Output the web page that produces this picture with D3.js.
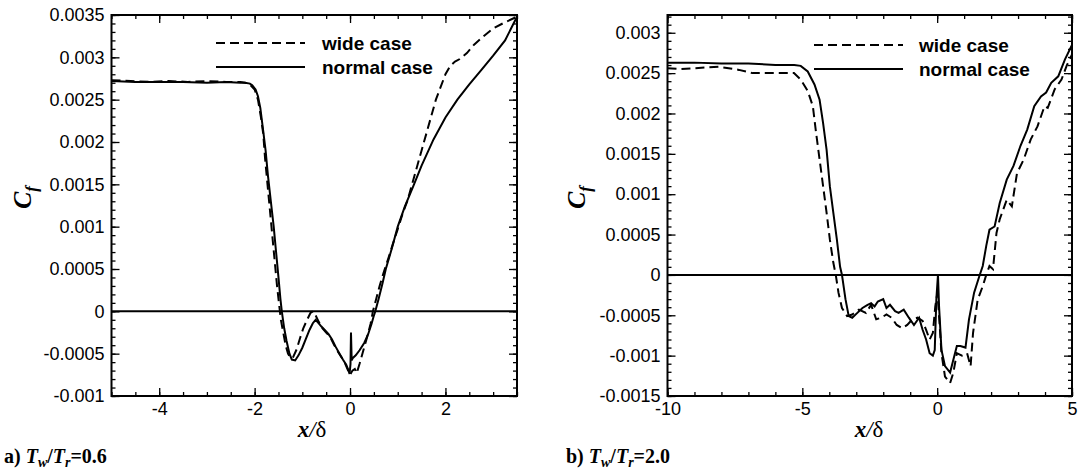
<!DOCTYPE html>
<html>
<head>
<meta charset="utf-8">
<script src="https://cdn.jsdelivr.net/npm/d3@7"></script>
<style>
  body { margin: 0; background: #fff; }
  svg { display: block; }
</style>
</head>
<body>
<svg id="fig" width="1078" height="472"></svg>
<script>
// ---- Panel a) Tw/Tr = 0.6 : skin friction along the wall ----
const aXTicks = [-4, -2, 0, 2];
const aYTicks = [-0.001, -0.0005, 0, 0.0005, 0.001, 0.0015, 0.002, 0.0025, 0.003, 0.0035];

const aNormal = [
  [-5, 0.00272], [-4.5, 0.00271], [-4, 0.00271], [-3.5, 0.00271], [-3, 0.0027], [-2.6, 0.00271],
  [-2.3, 0.0027], [-2.2, 0.0027], [-2.1, 0.00269], [-2.05, 0.00267], [-1.98, 0.00262], [-1.93, 0.00254],
  [-1.88, 0.0024], [-1.82, 0.00213], [-1.77, 0.0019], [-1.72, 0.0016], [-1.66, 0.0013], [-1.6, 0.001],
  [-1.55, 0.0007], [-1.5, 0.0004], [-1.46, 0.00015], [-1.43, 0], [-1.38, -0.0002], [-1.33, -0.00035],
  [-1.27, -0.0005], [-1.22, -0.00057], [-1.15, -0.00058], [-1.08, -0.00052], [-1.0, -0.00043],
  [-0.93, -0.00033], [-0.85, -0.00022], [-0.78, -0.00014], [-0.72, -0.0001], [-0.66, -0.00014],
  [-0.6, -0.00018], [-0.53, -0.00022], [-0.45, -0.00027], [-0.38, -0.00033], [-0.3, -0.00042],
  [-0.22, -0.0005], [-0.15, -0.00057], [-0.08, -0.00063], [-0.03, -0.0007], [-0.01, -0.00074],
  [0.01, -0.00062], [0.02, -0.00025], [0.035, -0.00058], [0.06, -0.00055], [0.12, -0.00052],
  [0.2, -0.00046], [0.3, -0.00037], [0.38, -0.00027], [0.45, -0.00015], [0.5, -0.00005], [0.53, 0],
  [0.6, 0.00015], [0.68, 0.00033], [0.75, 0.0005], [0.88, 0.00075], [1.0, 0.001], [1.15, 0.00124],
  [1.32, 0.00147], [1.5, 0.00172], [1.75, 0.00203], [2.0, 0.00229], [2.25, 0.0025], [2.5, 0.00268],
  [2.75, 0.00285], [3.0, 0.00302], [3.25, 0.0032], [3.5, 0.00348]
];

const aWide = [
  [-5, 0.00273], [-4.6, 0.00272], [-4.2, 0.00271], [-3.8, 0.00272], [-3.4, 0.00271], [-3.0, 0.00272],
  [-2.6, 0.00271], [-2.3, 0.00271], [-2.2, 0.0027], [-2.1, 0.00268], [-2.0, 0.00262], [-1.93, 0.0025],
  [-1.87, 0.0023], [-1.82, 0.0021], [-1.78, 0.0018], [-1.73, 0.0015], [-1.68, 0.0012], [-1.63, 0.0009],
  [-1.58, 0.0006], [-1.53, 0.0003], [-1.48, 0.00005], [-1.45, -0.0001], [-1.4, -0.00025],
  [-1.35, -0.0004], [-1.3, -0.0005], [-1.25, -0.00055], [-1.2, -0.00055], [-1.12, -0.00045],
  [-1.05, -0.00032], [-0.98, -0.0002], [-0.9, -0.0001], [-0.83, -0.00002], [-0.78, 0],
  [-0.72, -0.00005], [-0.65, -0.00013], [-0.58, -0.0002], [-0.5, -0.00025], [-0.42, -0.0003],
  [-0.33, -0.0004], [-0.25, -0.00048], [-0.17, -0.00055], [-0.1, -0.00062], [-0.04, -0.0007],
  [0, -0.00075], [0.05, -0.0007], [0.1, -0.00068], [0.14, -0.00073], [0.2, -0.00062], [0.28, -0.00046],
  [0.36, -0.0003], [0.43, -0.00015], [0.48, 0], [0.55, 0.00015], [0.62, 0.0003], [0.7, 0.00045],
  [0.8, 0.00062], [0.9, 0.0008], [1.0, 0.00097], [1.1, 0.00115], [1.2, 0.0013], [1.3, 0.0015],
  [1.4, 0.0017], [1.5, 0.0019], [1.6, 0.0021], [1.7, 0.0023], [1.8, 0.0025], [1.9, 0.00265],
  [2.0, 0.0028], [2.1, 0.0029], [2.2, 0.00295], [2.3, 0.00298], [2.45, 0.00305], [2.6, 0.00315],
  [2.8, 0.00325], [3.0, 0.00334], [3.2, 0.0034], [3.5, 0.00348]
];

// ---- Panel b) Tw/Tr = 2.0 ----
const bXTicks = [-10, -5, 0, 5];
const bYTicks = [-0.0015, -0.001, -0.0005, 0, 0.0005, 0.001, 0.0015, 0.002, 0.0025, 0.003];

const bNormal = [
  [-10, 0.00263], [-9, 0.00263], [-8, 0.00262], [-7, 0.00262], [-6, 0.0026], [-5.3, 0.0026],
  [-5.06, 0.00259], [-4.8, 0.00252], [-4.55, 0.00236], [-4.36, 0.00217], [-4.23, 0.00188],
  [-4.1, 0.00155], [-3.98, 0.0011], [-3.85, 0.00077], [-3.72, 0.00044], [-3.6, 0.0001], [-3.53, 0],
  [-3.4, -0.0003], [-3.28, -0.00051], [-3.15, -0.00053], [-2.96, -0.00047], [-2.77, -0.00041],
  [-2.58, -0.00037], [-2.45, -0.00035], [-2.32, -0.00039], [-2.2, -0.00033], [-2.0, -0.0003],
  [-1.88, -0.00041], [-1.75, -0.00037], [-1.56, -0.00045], [-1.43, -0.00047], [-1.24, -0.00043],
  [-1.05, -0.00053], [-0.86, -0.00062], [-0.67, -0.00053], [-0.54, -0.00068], [-0.41, -0.0008],
  [-0.28, -0.00097], [-0.16, -0.001], [-0.09, -0.00093], [-0.03, -0.0003], [0.03, 0],
  [0.07, -0.00039], [0.16, -0.00093], [0.29, -0.00113], [0.48, -0.00121], [0.6, -0.00105],
  [0.73, -0.00088], [0.86, -0.00088], [1.05, -0.0009], [1.18, -0.00055], [1.37, -0.00022],
  [1.56, -0.00002], [1.69, 0.00011], [1.82, 0.00036], [1.94, 0.00056], [2.13, 0.0006],
  [2.32, 0.00089], [2.58, 0.00118], [2.83, 0.00135], [3.09, 0.0016], [3.34, 0.0018], [3.6, 0.00209],
  [3.85, 0.00221], [4.04, 0.00226], [4.23, 0.00238], [4.49, 0.00246], [4.74, 0.00267], [5.0, 0.00285]
];

const bWide = [
  [-10, 0.00256], [-9.5, 0.00255], [-9.0, 0.00256], [-8.1, 0.00258], [-7.35, 0.00254],
  [-6.84, 0.0025], [-6.08, 0.0025], [-5.31, 0.0025], [-5.06, 0.00242], [-4.8, 0.00228],
  [-4.61, 0.00209], [-4.49, 0.00176], [-4.36, 0.00143], [-4.23, 0.0011], [-4.1, 0.00077],
  [-3.98, 0.00044], [-3.85, 0.00015], [-3.76, 0], [-3.66, -0.00022], [-3.53, -0.00041],
  [-3.34, -0.00051], [-3.15, -0.00049], [-2.9, -0.00043], [-2.64, -0.00047], [-2.45, -0.00037],
  [-2.26, -0.00055], [-2.07, -0.00053], [-1.88, -0.00049], [-1.69, -0.00053], [-1.5, -0.00062],
  [-1.3, -0.00066], [-1.11, -0.00062], [-0.92, -0.00055], [-0.73, -0.00053], [-0.54, -0.00057],
  [-0.41, -0.00068], [-0.28, -0.0008], [-0.16, -0.00072], [-0.07, -0.00039], [0.01, -0.00022],
  [0.07, -0.00051], [0.16, -0.00097], [0.29, -0.00126], [0.48, -0.00134], [0.6, -0.00121],
  [0.73, -0.00097], [0.92, -0.001], [1.11, -0.00097], [1.24, -0.00113], [1.33, -0.00072],
  [1.5, -0.00031], [1.69, -0.00014], [1.82, 0], [1.94, 0.00011], [2.07, 0.00007], [2.2, 0.00052],
  [2.32, 0.00069], [2.58, 0.00093], [2.77, 0.00085], [2.96, 0.00126], [3.21, 0.00143],
  [3.47, 0.00168], [3.72, 0.00184], [3.98, 0.00209], [4.1, 0.00207], [4.36, 0.0023],
  [4.61, 0.00242], [4.8, 0.00259], [5.0, 0.00273]
];

const seriesNames = ["wide case", "normal case"];

// ---- drawing ----
const svg = d3.select("#fig");
const SANS = "'Liberation Sans', Arial, Helvetica, sans-serif";
const SERIF = "'Liberation Serif', 'Times New Roman', Times, serif";

function fmt(v) {
  if (Math.abs(v) < 1e-12) return "0";
  return String(+v.toFixed(4));
}

function range(a, b, step) {
  const out = [];
  const n = Math.round((b - a) / step);
  for (let i = 0; i <= n; i++) out.push(+(a + i * step).toFixed(6));
  return out;
}

function drawPanel(cfg) {
  const { box, xDomain, yDomain, xTicks, yTicks, xMinor, yMinor, wide, normal, legend, caption, yLabelX, xLabelX } = cfg;
  const x = d3.scaleLinear().domain(xDomain).range([box.left, box.right]);
  const y = d3.scaleLinear().domain(yDomain).range([box.bottom, box.top]);
  const g = svg.append("g");

  const clipId = "clip" + Math.round(box.left);
  svg.append("clipPath").attr("id", clipId).append("rect")
    .attr("x", box.left).attr("y", box.top)
    .attr("width", box.right - box.left).attr("height", box.bottom - box.top);

  const tickStyle = sel => {
    sel.select(".domain").remove();
    sel.selectAll(".tick line").attr("stroke", "#000").attr("stroke-width", 1.3);
    sel.selectAll(".tick text").attr("fill", "#000").style("font-family", SANS).style("font-size", "18px");
  };

  // minor ticks on all four sides
  g.append("g").attr("transform", `translate(0,${box.bottom})`)
    .call(d3.axisBottom(x).tickValues(xMinor).tickSizeInner(-4).tickSizeOuter(0).tickFormat(""))
    .call(tickStyle);
  g.append("g").attr("transform", `translate(0,${box.top})`)
    .call(d3.axisTop(x).tickValues(xMinor).tickSizeInner(-4).tickSizeOuter(0).tickFormat(""))
    .call(tickStyle);
  g.append("g").attr("transform", `translate(${box.left},0)`)
    .call(d3.axisLeft(y).tickValues(yMinor).tickSizeInner(-4).tickSizeOuter(0).tickFormat(""))
    .call(tickStyle);
  g.append("g").attr("transform", `translate(${box.right},0)`)
    .call(d3.axisRight(y).tickValues(yMinor).tickSizeInner(-4).tickSizeOuter(0).tickFormat(""))
    .call(tickStyle);

  // major ticks
  g.append("g").attr("transform", `translate(0,${box.bottom})`)
    .call(d3.axisBottom(x).tickValues(xTicks).tickSizeInner(-8).tickSizeOuter(0).tickPadding(6).tickFormat(fmt))
    .call(tickStyle);
  g.append("g").attr("transform", `translate(0,${box.top})`)
    .call(d3.axisTop(x).tickValues(xTicks).tickSizeInner(-8).tickSizeOuter(0).tickFormat(""))
    .call(tickStyle);
  g.append("g").attr("transform", `translate(${box.left},0)`)
    .call(d3.axisLeft(y).tickValues(yTicks).tickSizeInner(-8).tickSizeOuter(0).tickPadding(7).tickFormat(fmt))
    .call(tickStyle);
  g.append("g").attr("transform", `translate(${box.right},0)`)
    .call(d3.axisRight(y).tickValues(yTicks).tickSizeInner(-8).tickSizeOuter(0).tickFormat(""))
    .call(tickStyle);

  // zero line
  g.append("line")
    .attr("x1", box.left).attr("x2", box.right)
    .attr("y1", y(0)).attr("y2", y(0))
    .attr("stroke", "#000").attr("stroke-width", 2);

  const line = d3.line().x(d => x(d[0])).y(d => y(d[1]));
  const curves = g.append("g").attr("clip-path", `url(#${clipId})`);
  curves.append("path").datum(wide)
    .attr("d", line).attr("fill", "none").attr("stroke", "#000")
    .attr("stroke-width", 2).attr("stroke-dasharray", "9,5");
  curves.append("path").datum(normal)
    .attr("d", line).attr("fill", "none").attr("stroke", "#000")
    .attr("stroke-width", 2);

  // frame
  g.append("rect")
    .attr("x", box.left).attr("y", box.top)
    .attr("width", box.right - box.left).attr("height", box.bottom - box.top)
    .attr("fill", "none").attr("stroke", "#000").attr("stroke-width", 2);

  // legend
  const lg = g.append("g");
  seriesNames.forEach((name, i) => {
    const ly = legend.y + i * 24;
    lg.append("line")
      .attr("x1", legend.x1).attr("x2", legend.x2).attr("y1", ly).attr("y2", ly)
      .attr("stroke", "#000").attr("stroke-width", 2)
      .attr("stroke-dasharray", i === 0 ? "9,5" : null);
    lg.append("text")
      .attr("x", legend.tx).attr("y", ly + 7)
      .style("font-family", SANS).style("font-weight", "bold").style("font-size", "19px")
      .text(name);
  });

  // y axis title: C_f
  const yt = g.append("text")
    .attr("transform", `translate(${yLabelX},${(box.top + box.bottom) / 2 - 8}) rotate(-90)`)
    .attr("text-anchor", "middle")
    .style("font-family", SERIF).style("font-style", "italic").style("font-weight", "bold")
    .style("font-size", "26px");
  yt.append("tspan").text("C");
  yt.append("tspan").attr("dy", 6).style("font-size", "17px").text("f");

  // x axis title: x/δ
  const xt = g.append("text")
    .attr("x", xLabelX).attr("y", 437)
    .attr("text-anchor", "middle")
    .style("font-family", SERIF).style("font-size", "23px");
  xt.append("tspan").style("font-style", "italic").style("font-weight", "bold").text("x");
  xt.append("tspan").style("font-style", "italic").text("/");
  xt.append("tspan").text("δ");

  // caption
  const ct = g.append("text")
    .attr("x", caption.x).attr("y", 463)
    .style("font-family", SERIF).style("font-weight", "bold").style("font-size", "20px");
  ct.append("tspan").text(caption.tag + " ");
  ct.append("tspan").style("font-style", "italic").text("T");
  ct.append("tspan").attr("dy", 4).style("font-style", "italic").style("font-size", "14px").text("w");
  ct.append("tspan").attr("dy", -4).text("/");
  ct.append("tspan").style("font-style", "italic").text("T");
  ct.append("tspan").attr("dy", 4).style("font-style", "italic").style("font-size", "14px").text("r");
  ct.append("tspan").attr("dy", -4).text("=" + caption.ratio);
}

drawPanel({
  box: { left: 111.5, right: 517, top: 15, bottom: 396 },
  xDomain: [-5, 3.5], yDomain: [-0.001, 0.0035],
  xTicks: aXTicks, yTicks: aYTicks,
  xMinor: range(-5, 3.5, 0.5), yMinor: range(-0.001, 0.0035, 0.0001),
  wide: aWide, normal: aNormal,
  legend: { x1: 216, x2: 305, tx: 322, y: 43 },
  caption: { x: 4, tag: "a)", ratio: "0.6" },
  yLabelX: 31, xLabelX: 312
});

drawPanel({
  box: { left: 667.5, right: 1072, top: 15, bottom: 396 },
  xDomain: [-10, 5], yDomain: [-0.0015, 0.00322],
  xTicks: bXTicks, yTicks: bYTicks,
  xMinor: range(-10, 5, 1), yMinor: range(-0.0015, 0.0032, 0.0001),
  wide: bWide, normal: bNormal,
  legend: { x1: 814, x2: 903, tx: 919, y: 45 },
  caption: { x: 566, tag: "b)", ratio: "2.0" },
  yLabelX: 585, xLabelX: 869
});
</script>
</body>
</html>
